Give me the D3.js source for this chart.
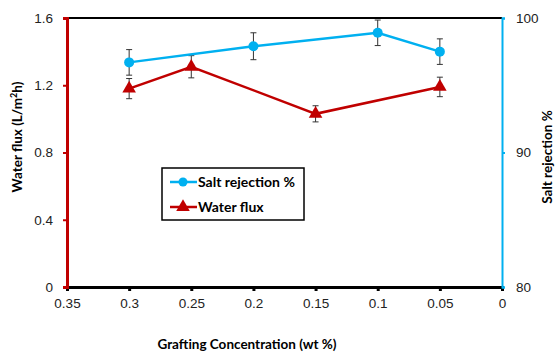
<!DOCTYPE html>
<html>
<head>
<meta charset="utf-8">
<script src="https://cdn.jsdelivr.net/npm/d3@7"></script>
<style>
  body { margin: 0; background: #fff; }
  svg { font-family: Lato, "Open Sans", sans-serif; }
</style>
</head>
<body>
<div id="chart"></div>
<script>
// grafting concentration (wt %)
const fluxConc = [0.3, 0.25, 0.15, 0.05];
const fluxVals = [1.18, 1.31, 1.03, 1.19];
const fluxErr = [0.06, 0.066, 0.048, 0.058];

const saltConc = [0.3, 0.2, 0.1, 0.05];
const saltVals = [96.7, 97.9, 98.9, 97.5];
const saltErr = [0.95, 1.0, 0.95, 0.95];

const xTicks = [0.35, 0.3, 0.25, 0.2, 0.15, 0.1, 0.05, 0];
const leftTicks = [0, 0.4, 0.8, 1.2, 1.6];
const rightTicks = [80, 90, 100];

const RED = "#c00000", BLUE = "#00b0f0";

var W = 555, H = 352;
var margin = {top: 18, right: 53, bottom: 65, left: 67};

var svg = d3.select("#chart").append("svg")
  .attr("width", W).attr("height", H);

var x = d3.scaleLinear().domain([0.35, 0]).range([margin.left, W - margin.right]);
var yL = d3.scaleLinear().domain([0, 1.6]).range([H - margin.bottom, margin.top]);
var yR = d3.scaleLinear().domain([80, 100]).range([H - margin.bottom, margin.top]);

// top border
svg.append("line")
  .attr("x1", x(0.35)).attr("x2", x(0))
  .attr("y1", yL(1.6)).attr("y2", yL(1.6))
  .attr("stroke", "#000").attr("stroke-width", 2);

// bottom axis
var xAxis = svg.append("g")
  .attr("transform", `translate(0,${yL(0)})`)
  .call(d3.axisBottom(x).tickValues(xTicks).tickFormat(d => d).tickSizeOuter(0).tickSize(4));
xAxis.select(".domain").attr("stroke", "#000").attr("stroke-width", 3);
xAxis.selectAll(".tick line").attr("stroke", "#000").attr("stroke-width", 3);
xAxis.selectAll(".tick text").attr("font-size", 13.5).attr("fill", "#222").attr("y", 8).attr("dy", "0.95em");

// left axis
var lAxis = svg.append("g")
  .attr("transform", `translate(${x(0.35)},0)`)
  .call(d3.axisLeft(yL).tickValues(leftTicks).tickFormat(d => d).tickSizeOuter(0).tickSize(4));
lAxis.select(".domain").attr("stroke", RED).attr("stroke-width", 3);
lAxis.selectAll(".tick line").attr("stroke", RED).attr("stroke-width", 2);
lAxis.selectAll(".tick text").attr("font-size", 13.5).attr("fill", "#222").attr("x", -14);

// right axis
var rAxis = svg.append("g")
  .attr("transform", `translate(${x(0)},0)`)
  .call(d3.axisRight(yR).tickValues(rightTicks).tickSizeOuter(0).tickSize(3));
rAxis.select(".domain").attr("stroke", BLUE).attr("stroke-width", 2);
rAxis.selectAll(".tick line").attr("stroke", BLUE).attr("stroke-width", 2);
rAxis.selectAll(".tick text").attr("font-size", 13.5).attr("fill", "#222").attr("x", 14);

// axis titles
svg.append("text")
  .attr("transform", "translate(22,137) rotate(-90)")
  .attr("text-anchor", "middle").attr("font-size", 13.5).attr("font-weight", "bold")
  .html('Water flux (L/m<tspan baseline-shift="super" font-size="9">2</tspan>h)');
svg.append("text")
  .attr("transform", "translate(552,157) rotate(-90)")
  .attr("text-anchor", "middle").attr("font-size", 13.5).attr("font-weight", "bold")
  .text("Salt rejection %");
svg.append("text")
  .attr("x", 247).attr("y", 349)
  .attr("text-anchor", "middle").attr("font-size", 13.5).attr("font-weight", "bold")
  .text("Grafting Concentration (wt %)");

var salt = saltConc.map((c, i) => ({c, v: saltVals[i], e: saltErr[i]}));
var flux = fluxConc.map((c, i) => ({c, v: fluxVals[i], e: fluxErr[i]}));

function errBars(data, y) {
  var g = svg.append("g").attr("stroke", "#333").attr("stroke-width", 1);
  data.forEach(d => {
    var xx = x(d.c);
    g.append("line").attr("x1", xx).attr("x2", xx).attr("y1", y(d.v - d.e)).attr("y2", y(d.v + d.e));
    g.append("line").attr("x1", xx - 3).attr("x2", xx + 3).attr("y1", y(d.v - d.e)).attr("y2", y(d.v - d.e));
    g.append("line").attr("x1", xx - 3).attr("x2", xx + 3).attr("y1", y(d.v + d.e)).attr("y2", y(d.v + d.e));
  });
}
errBars(salt, yR);
errBars(flux, yL);

// salt rejection line
svg.append("path").datum(salt)
  .attr("fill", "none").attr("stroke", BLUE).attr("stroke-width", 2.5)
  .attr("d", d3.line().x(d => x(d.c)).y(d => yR(d.v)));
svg.selectAll("circle.salt").data(salt).enter().append("circle")
  .attr("class", "salt").attr("cx", d => x(d.c)).attr("cy", d => yR(d.v))
  .attr("r", 5).attr("fill", BLUE);

// water flux line
svg.append("path").datum(flux)
  .attr("fill", "none").attr("stroke", RED).attr("stroke-width", 2.5)
  .attr("d", d3.line().x(d => x(d.c)).y(d => yL(d.v)));
var tri = d3.symbol().type(d3.symbolTriangle).size(80);
svg.selectAll("path.flux").data(flux).enter().append("path")
  .attr("class", "flux").attr("d", tri)
  .attr("transform", d => `translate(${x(d.c)},${yL(d.v)})`)
  .attr("fill", RED);

// legend
var lg = svg.append("g").attr("transform", "translate(162,168)");
lg.append("rect").attr("width", 142).attr("height", 52)
  .attr("fill", "#fff").attr("stroke", "#000").attr("stroke-width", 1.5);
[
  {name: "Salt rejection %", color: BLUE, sym: "circle"},
  {name: "Water flux", color: RED, sym: "tri"}
].forEach((s, i) => {
  var yy = 14 + i * 25;
  lg.append("line").attr("x1", 8).attr("x2", 35).attr("y1", yy).attr("y2", yy)
    .attr("stroke", s.color).attr("stroke-width", 2.5);
  if (s.sym == "circle")
    lg.append("circle").attr("cx", 21).attr("cy", yy).attr("r", 4.5).attr("fill", s.color);
  else
    lg.append("path").attr("d", tri).attr("transform", `translate(21,${yy})`).attr("fill", s.color);
  lg.append("text").attr("x", 36).attr("y", yy).attr("dy", "0.35em")
    .attr("font-size", 14).attr("font-weight", "bold").text(s.name);
});
</script>
</body>
</html>
